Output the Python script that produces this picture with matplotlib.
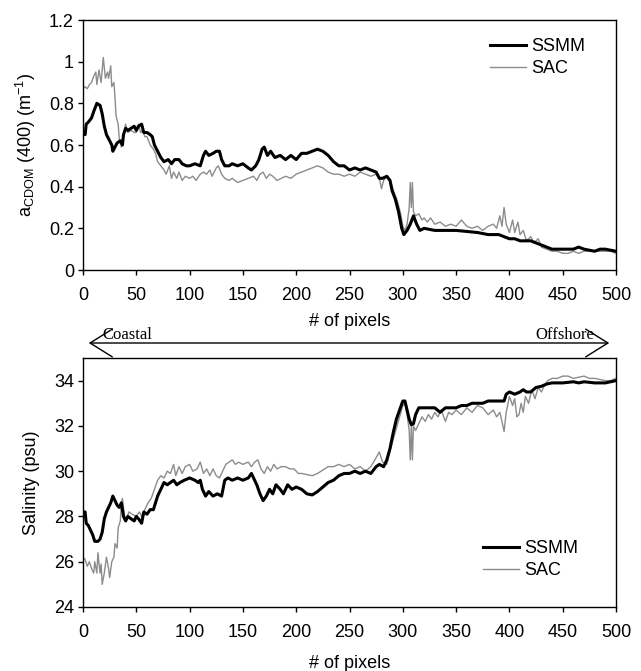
import matplotlib
matplotlib.use("Agg")
import matplotlib.pyplot as plt
from matplotlib import rcParams
from matplotlib.patches import FancyArrowPatch

# --- aCDOM(400) along the transect ---
cdom_ssmm_x = [0, 2, 3, 5, 8, 10, 13, 16, 18, 20, 22, 25, 27, 28, 30, 32, 35, 37, 38, 40,
               42, 45, 48, 50, 52, 55, 57, 60, 63, 65, 67, 70, 73, 76, 80, 83, 86, 90, 93, 97,
               100, 105, 110, 113, 115, 118, 122, 125, 128, 130, 133, 137, 140, 145, 150, 155, 158,
               162, 165, 168, 170, 173, 176, 180, 185, 190, 195, 200, 205, 210, 215, 220, 225,
               230, 235, 240, 245, 250, 255, 260, 265, 270, 275, 278, 281, 285, 288, 290, 293,
               296, 299, 301, 304, 307, 310, 313, 316, 320, 330, 340, 350, 360, 370, 380, 390,
               400, 405, 410, 415, 420, 425, 430, 435, 440, 450, 460, 465, 470, 480, 485, 490, 500]
cdom_ssmm = [0.65, 0.65, 0.70, 0.71, 0.73, 0.76, 0.80, 0.79, 0.75, 0.69, 0.65, 0.62, 0.60, 0.57,
             0.59, 0.61, 0.62, 0.60, 0.65, 0.68, 0.67, 0.68, 0.69, 0.67, 0.69, 0.70, 0.66, 0.66,
             0.65, 0.64, 0.60, 0.57, 0.54, 0.52, 0.53, 0.51, 0.53, 0.53, 0.51, 0.50, 0.50, 0.51,
             0.50, 0.55, 0.57, 0.55, 0.56, 0.57, 0.57, 0.53, 0.50, 0.50, 0.51, 0.50, 0.51, 0.49,
             0.48, 0.50, 0.53, 0.58, 0.59, 0.55, 0.57, 0.54, 0.55, 0.53, 0.55, 0.53, 0.56, 0.56,
             0.57, 0.58, 0.57, 0.55, 0.52, 0.50, 0.50, 0.48, 0.49, 0.48, 0.49, 0.48, 0.47, 0.44,
             0.44, 0.45, 0.43, 0.38, 0.34, 0.28, 0.20, 0.17, 0.19, 0.22, 0.26, 0.22, 0.19, 0.20,
             0.19, 0.19, 0.19, 0.185, 0.18, 0.17, 0.17, 0.15, 0.15, 0.14, 0.14, 0.14, 0.13, 0.12,
             0.11, 0.10, 0.10, 0.10, 0.11, 0.10, 0.09, 0.10, 0.10, 0.09]
cdom_sac_x = [0, 2, 4, 6, 8, 10, 12, 13, 15, 17, 18, 19, 21, 23, 24, 26, 27, 29, 30, 31, 33,
              34, 36, 38, 40, 42, 45, 48, 50, 52, 54, 56, 58, 60, 63, 66, 68, 70, 73, 76, 78,
              81, 83, 85, 88, 90, 93, 96, 100, 103, 106, 110, 113, 116, 119, 121, 125, 127, 130,
              133, 137, 140, 145, 150, 155, 160, 163, 166, 169, 172, 175, 178, 182, 186, 190,
              195, 200, 205, 210, 215, 220, 225, 230, 235, 240, 245, 250, 255, 260, 265, 270,
              275, 278, 280, 282, 285, 288, 290, 292, 295, 298, 300, 302, 304, 306, 307, 308,
              309, 310, 312, 315, 318, 320, 323, 326, 330, 335, 340, 345, 350, 355, 360, 365,
              370, 375, 380, 385, 388, 391, 393, 395, 397, 400, 403, 405, 408, 410, 413, 416,
              420, 423, 427, 430, 435, 440, 445, 450, 455, 460, 465, 470, 475, 480, 490, 495, 500]
cdom_sac = [0.87, 0.88, 0.87, 0.89, 0.90, 0.93, 0.95, 0.89, 0.96, 0.90, 0.96, 1.02, 0.92, 0.95,
            0.92, 0.98, 0.88, 0.90, 0.83, 0.74, 0.70, 0.63, 0.59, 0.65, 0.70, 0.66, 0.67, 0.66,
            0.66, 0.70, 0.66, 0.67, 0.64, 0.64, 0.60, 0.58, 0.56, 0.52, 0.50, 0.48, 0.46, 0.50,
            0.44, 0.47, 0.44, 0.47, 0.43, 0.45, 0.44, 0.45, 0.43, 0.46, 0.47, 0.46, 0.48, 0.45,
            0.49, 0.50, 0.46, 0.44, 0.43, 0.44, 0.42, 0.43, 0.44, 0.45, 0.43, 0.46, 0.47, 0.44,
            0.46, 0.45, 0.43, 0.44, 0.45, 0.44, 0.46, 0.47, 0.48, 0.49, 0.50, 0.49, 0.47, 0.46,
            0.46, 0.45, 0.46, 0.45, 0.47, 0.46, 0.45, 0.46, 0.44, 0.39, 0.43, 0.45, 0.43, 0.40,
            0.37, 0.33, 0.27, 0.21, 0.19, 0.22, 0.30, 0.42, 0.30, 0.42, 0.28, 0.26, 0.27, 0.24,
            0.25, 0.23, 0.25, 0.22, 0.23, 0.21, 0.22, 0.21, 0.24, 0.21, 0.20, 0.21, 0.19, 0.21,
            0.22, 0.20, 0.26, 0.21, 0.30, 0.22, 0.18, 0.24, 0.18, 0.23, 0.17, 0.19, 0.14, 0.16,
            0.13, 0.15, 0.11, 0.10, 0.09, 0.09, 0.08, 0.08, 0.09, 0.08, 0.09, 0.09, 0.09, 0.09,
            0.09, 0.08]

# --- Salinity along the transect ---
sal_ssmm_x = [0, 2, 3, 5, 7, 9, 11, 14, 16, 18, 20, 22, 24, 26, 28, 30, 32, 34, 36, 38, 40, 42,
              45, 48, 50, 52, 55, 57, 60, 63, 66, 68, 70, 73, 76, 79, 82, 85, 88, 91, 95, 100,
              105, 108, 110, 112, 115, 118, 122, 126, 130, 133, 136, 140, 145, 150, 155, 158,
              161, 163, 166, 169, 172, 175, 178, 181, 185, 188, 192, 196, 200, 205, 210, 215,
              220, 225, 230, 235, 240, 245, 250, 255, 260, 265, 270, 275, 278, 282, 285, 288,
              291, 294, 297, 300, 302, 304, 306, 308, 310, 312, 315, 320, 325, 330, 335, 340,
              345, 350, 355, 360, 365, 370, 375, 380, 385, 390, 395, 397, 400, 405, 410, 413,
              416, 420, 425, 430, 435, 440, 450, 460, 465, 470, 480, 490, 500]
sal_ssmm = [28.2, 28.2, 27.7, 27.6, 27.4, 27.2, 26.9, 26.9, 27.0, 27.3, 27.9, 28.2, 28.4, 28.6,
            28.9, 28.7, 28.5, 28.4, 28.6, 28.0, 27.8, 28.0, 27.9, 27.8, 28.0, 27.9, 27.7, 28.2,
            28.1, 28.3, 28.3, 28.6, 28.9, 29.2, 29.5, 29.4, 29.5, 29.6, 29.4, 29.5, 29.6, 29.7,
            29.6, 29.5, 29.6, 29.2, 28.9, 29.1, 28.9, 29.0, 28.9, 29.6, 29.7, 29.6, 29.7, 29.6,
            29.7, 29.9, 29.6, 29.4, 29.0, 28.7, 28.9, 29.2, 29.0, 29.4, 29.2, 29.0, 29.4, 29.2,
            29.3, 29.2, 29.0, 28.95, 29.1, 29.3, 29.5, 29.6, 29.8, 29.9, 29.9, 30.0, 29.9, 30.0,
            29.9, 30.2, 30.3, 30.2, 30.5, 31.0, 31.7, 32.3, 32.7, 33.1, 33.1, 32.7, 32.3, 32.05,
            32.1, 32.5, 32.8, 32.8, 32.8, 32.8, 32.6, 32.8, 32.8, 32.8, 32.9, 32.9, 33.0, 33.0,
            33.0, 33.1, 33.1, 33.1, 33.1, 33.4, 33.5, 33.4, 33.5, 33.6, 33.5, 33.5, 33.7, 33.75,
            33.85, 33.9, 33.9, 33.95, 33.9, 33.95, 33.9, 33.9, 34.0]
sal_sac_x = [0, 2, 4, 6, 8, 10, 11, 13, 14, 16, 17, 18, 20, 22, 24, 25, 27, 29, 30, 32, 33, 35,
             36, 37, 39, 41, 43, 46, 50, 53, 56, 58, 61, 64, 67, 70, 73, 76, 79, 82, 85, 87, 90,
             93, 96, 100, 103, 107, 110, 113, 116, 119, 122, 125, 128, 131, 134, 137, 140, 143,
             146, 150, 155, 158, 161, 164, 167, 170, 173, 176, 179, 182, 186, 190, 194, 198,
             202, 205, 210, 215, 220, 225, 230, 235, 240, 245, 250, 255, 260, 265, 270, 275,
             278, 281, 285, 288, 291, 294, 297, 300, 302, 304, 306, 307, 308, 309, 310, 312,
             315, 318, 321, 324, 327, 330, 333, 336, 340, 343, 346, 350, 355, 360, 365, 370,
             375, 380, 385, 388, 391, 393, 395, 397, 400, 403, 405, 407, 409, 411, 413, 415,
             418, 421, 424, 427, 430, 433, 436, 440, 445, 450, 455, 460, 465, 470, 475, 480,
             485, 490, 495, 500]
sal_sac = [26.2, 26.1, 25.8, 26.0, 25.7, 25.5, 26.0, 25.5, 26.4, 25.5, 25.9, 25.0, 25.5, 26.2,
           25.7, 25.3, 26.0, 26.2, 26.8, 26.6, 27.5, 27.8, 28.6, 28.8, 28.0, 27.9, 28.2, 28.1,
           28.0, 28.2, 27.9, 28.3, 28.6, 28.8, 29.2, 29.6, 29.8, 29.7, 30.0, 29.9, 30.3, 29.8,
           30.2, 29.9, 30.2, 30.3, 30.0, 30.1, 30.4, 29.9, 30.1, 29.8, 30.1, 29.8, 29.7, 30.0,
           30.3, 30.4, 30.5, 30.3, 30.4, 30.3, 30.4, 30.2, 30.4, 30.5, 30.1, 29.9, 30.2, 30.0,
           30.3, 30.1, 30.2, 30.2, 30.1, 30.1, 29.9, 29.9, 29.85, 29.8, 29.9, 30.05, 30.2, 30.2,
           30.3, 30.2, 30.3, 30.1, 30.2, 30.0, 30.2, 30.6, 30.85, 30.4, 30.3, 30.9, 31.4, 31.9,
           32.4, 32.9, 33.0, 32.5, 31.8, 30.5, 32.0, 30.5, 32.0, 31.8, 32.1, 32.4, 32.2, 32.5,
           32.3, 32.6, 32.4, 32.7, 32.2, 32.6, 32.5, 32.7, 32.5, 32.8, 32.6, 32.9, 32.8, 32.5,
           32.7, 32.4, 32.6, 32.2, 31.75, 32.6, 33.3, 32.9, 33.2, 32.4, 32.5, 33.0, 32.6, 33.3,
           33.0, 33.6, 33.2, 33.7, 33.5, 33.8, 34.0, 34.1, 34.1, 34.2, 34.2, 34.1, 34.15, 34.2,
           34.1, 34.1, 34.05, 34.0, 34.0, 34.1]

rcParams.update({"font.family": "sans-serif", "font.sans-serif": ["Liberation Sans", "DejaVu Sans"],
                 "font.size": 13, "axes.linewidth": 1.0, "mathtext.fontset": "custom",
                 "mathtext.rm": "Liberation Sans", "mathtext.it": "Liberation Sans"})

W, H = 641, 671
fig = plt.figure(figsize=(W / 100, H / 100), dpi=100)
ax1 = fig.add_axes([83 / W, 1 - 270 / H, 533 / W, 250 / H])
ax2 = fig.add_axes([83 / W, 1 - 607 / H, 533 / W, 249 / H])

GRAY = "#8c8c8c"
ax1.plot(cdom_ssmm_x, cdom_ssmm, color="black", lw=2.2, label="SSMM", zorder=3)
ax1.plot(cdom_sac_x, cdom_sac, color=GRAY, lw=1.0, label="SAC", zorder=2)
ax1.set_xlim(0, 500); ax1.set_ylim(0, 1.2)
ax1.set_xticks(range(0, 501, 50))
ax1.set_yticks([0, 0.2, 0.4, 0.6, 0.8, 1.0, 1.2])
ax1.set_yticklabels(["0", "0.2", "0.4", "0.6", "0.8", "1", "1.2"])
ax1.set_ylabel(r"a$_{\mathregular{CDOM}}$ (400) (m$^{\mathregular{-1}}$)", labelpad=8)
ax1.set_xlabel("# of pixels", labelpad=6)

ax2.plot(sal_ssmm_x, sal_ssmm, color="black", lw=2.2, label="SSMM", zorder=3)
ax2.plot(sal_sac_x, sal_sac, color=GRAY, lw=1.0, label="SAC", zorder=2)
ax2.set_xlim(0, 500); ax2.set_ylim(24, 35)
ax2.set_xticks(range(0, 501, 50))
ax2.set_yticks(range(24, 35, 2))
ax2.set_ylabel("Salinity (psu)", labelpad=10)
ax2.set_xlabel("# of pixels", labelpad=10)

for ax, anchor in ((ax1, (490 / W, 1 - 38 / H)), (ax2, (483 / W, 1 - 540 / H))):
    ax.tick_params(direction="out", length=3.5, width=1.0, labelsize=13)
    ax.tick_params(axis="x", pad=9)
    ax.tick_params(axis="y", pad=3)
    ax.legend(loc="upper left", bbox_to_anchor=anchor, bbox_transform=fig.transFigure,
              frameon=False, borderpad=0, borderaxespad=0, handlelength=2.0,
              handletextpad=0.3, labelspacing=0.3, fontsize=13)

# coastal -> offshore arrow between the panels
fig.patches.append(FancyArrowPatch(
    (86 / W, 1 - 343 / H), (612 / W, 1 - 343 / H), transform=fig.transFigure,
    arrowstyle="<->,head_length=0.8,head_width=0.5", mutation_scale=20, lw=1.0, color="black"))
fig.text(102 / W, 1 - 339 / H, "Coastal", family="Liberation Serif", fontsize=12, va="baseline")
fig.text(594 / W, 1 - 339 / H, "Offshore", family="Liberation Serif", fontsize=12,
         ha="right", va="baseline")

fig.savefig("out.png", dpi=100)
